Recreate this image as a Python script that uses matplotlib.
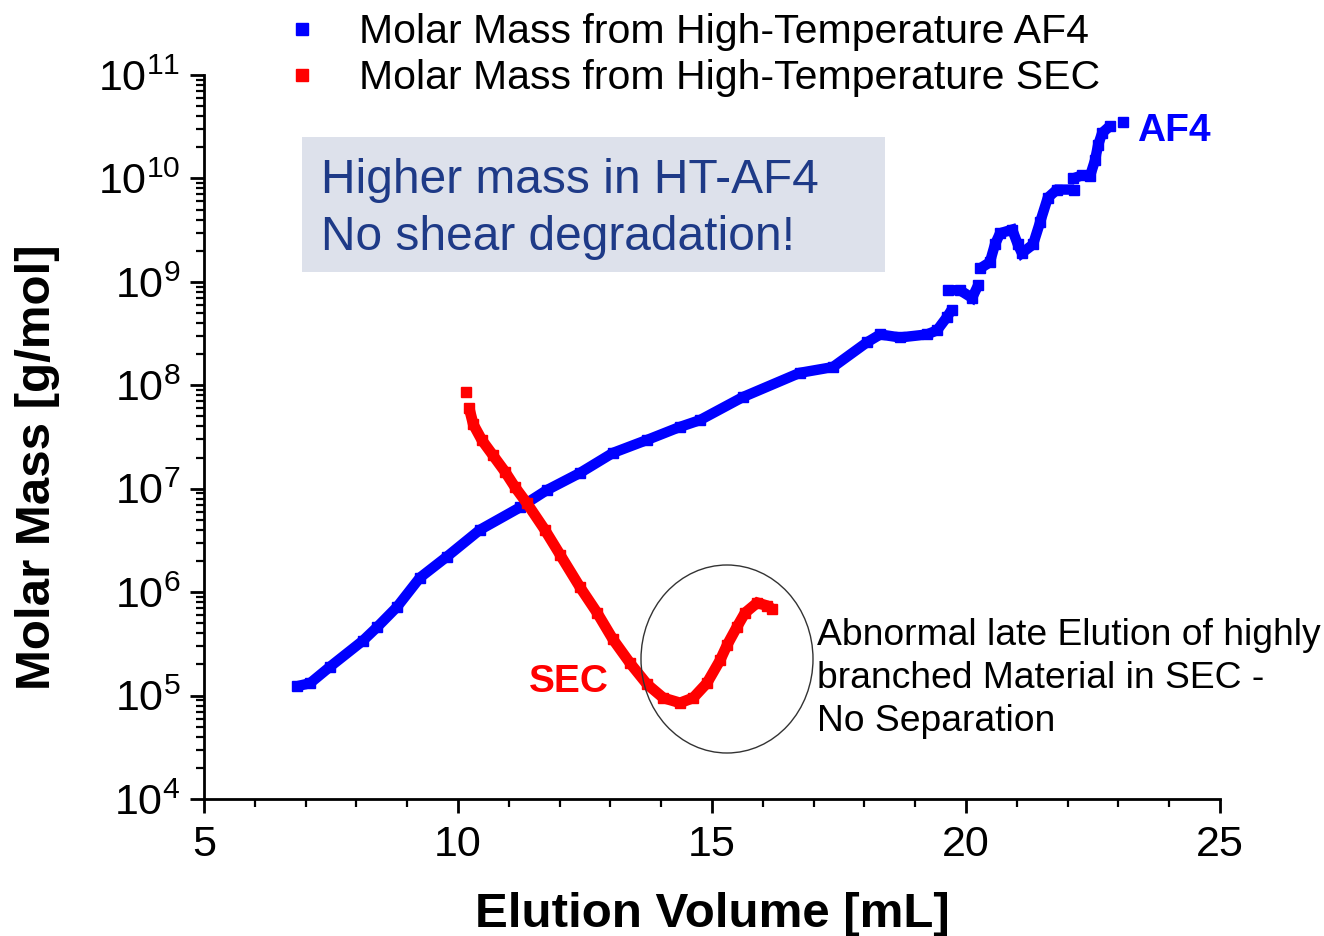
import numpy as np
import matplotlib
matplotlib.use("Agg")
import matplotlib.pyplot as plt
from matplotlib.lines import Line2D
from matplotlib.patches import Ellipse, Rectangle
from matplotlib.ticker import LogLocator, NullFormatter, FixedLocator

plt.rcParams["font.family"] = ["Liberation Sans", "DejaVu Sans"]
plt.rcParams["mathtext.fontset"] = "custom"
plt.rcParams["mathtext.rm"] = "Liberation Sans"
plt.rcParams["mathtext.it"] = "Liberation Sans:italic"
plt.rcParams["mathtext.bf"] = "Liberation Sans:bold"

nan = np.nan

# HT-AF4 molar mass vs elution volume (nan separates detached runs of points)
af4_volume = [6.83, 7.09, 7.48, 8.13, 8.41, 8.80, 9.25, 9.78, 10.43, 11.22,
              11.75, 12.40, 13.05, 13.72, 14.37, 14.76, 15.61, 16.73, 17.38,
              18.05, 18.31, 18.70, 19.23, 19.43, 19.63, 19.72, nan,
              19.65, 19.88, 20.12, 20.24, nan,
              20.28, 20.47, 20.57, 20.67, 20.91, 21.02, 21.10, 21.32, 21.46,
              21.61, 21.79, 22.13, nan,
              22.11, 22.28, nan,
              22.44, 22.54, 22.60, 22.68, 22.83, nan,
              23.09]
af4_mass = [1.23e5, 1.32e5, 1.9e5, 3.4e5, 4.6e5, 7.2e5, 1.38e6, 2.2e6, 4.0e6, 6.6e6,
            9.7e6, 1.42e7, 2.22e7, 2.96e7, 3.96e7, 4.6e7, 7.7e7, 1.32e8, 1.5e8,
            2.6e8, 3.1e8, 2.9e8, 3.1e8, 3.4e8, 4.6e8, 5.4e8, nan,
            8.3e8, 8.3e8, 7.0e8, 9.3e8, nan,
            1.35e9, 1.55e9, 2.3e9, 2.95e9, 3.2e9, 2.3e9, 1.9e9, 2.3e9, 3.8e9,
            6.5e9, 7.8e9, 7.8e9, nan,
            1.0e10, 1.07e10, nan,
            1.05e10, 1.5e10, 2.1e10, 2.75e10, 3.2e10, nan,
            3.5e10]

# HT-SEC molar mass vs elution volume
sec_volume = [10.16, nan, 10.22, 10.30, 10.47, 10.69, 10.93, 11.12, 11.36, 11.71,
              12.01, 12.40, 12.74, 13.05, 13.39, 13.72, 14.04, 14.37, 14.63,
              14.90, 15.16, 15.30, 15.49, 15.65, 15.89, 16.08, 16.18]
sec_mass = [8.6e7, nan, 6.0e7, 4.2e7, 2.95e7, 2.1e7, 1.45e7, 1.04e7, 7.2e6, 4.0e6,
            2.3e6, 1.12e6, 6.3e5, 3.5e5, 2.05e5, 1.29e5, 9.5e4, 8.5e4, 9.5e4,
            1.32e5, 2.2e5, 3.1e5, 4.6e5, 6.3e5, 7.9e5, 7.4e5, 6.9e5]

x_ticks = [5, 10, 15, 20, 25]
y_decades = [4, 5, 6, 7, 8, 9, 10, 11]

series_labels = ["Molar Mass from High-Temperature AF4",
                 "Molar Mass from High-Temperature SEC"]
box_lines = ["Higher mass in HT-AF4", "No shear degradation!"]
note_lines = ["Abnormal late Elution of highly",
              "branched Material in SEC -",
              "No Separation"]

W, H = 1324, 936
fig = plt.figure(figsize=(W / 100, H / 100), dpi=100)
ax = fig.add_axes([204 / W, 1 - 799 / H, (1220 - 204) / W, (799 - 75) / H])


def fx(px):
    return px / W


def fy(py):
    return 1 - py / H


BLUE = "#0000ff"
RED = "#ff0000"

ax.plot(af4_volume, af4_mass, color=BLUE, lw=7.5, marker="s", ms=7.5,
        solid_capstyle="butt", solid_joinstyle="miter", zorder=3)
ax.plot(sec_volume, sec_mass, color=RED, lw=7.8, marker="s", ms=7.8,
        solid_capstyle="butt", solid_joinstyle="miter", zorder=3)

ax.set_yscale("log")
ax.set_xlim(5, 25)
ax.set_ylim(1e4, 1e11)

ax.xaxis.set_major_locator(FixedLocator(x_ticks))
ax.xaxis.set_minor_locator(FixedLocator(np.arange(5, 26, 1)))
ax.set_xticklabels([str(t) for t in x_ticks])
ax.yaxis.set_major_locator(FixedLocator([10.0 ** d for d in y_decades]))
ax.set_yticklabels([r"$\mathregular{10^{%d}}$" % d for d in y_decades])
ax.yaxis.set_minor_locator(LogLocator(base=10, subs=np.arange(2, 10)))
ax.yaxis.set_minor_formatter(NullFormatter())

for s in ["top", "right"]:
    ax.spines[s].set_visible(False)
for s in ["left", "bottom"]:
    ax.spines[s].set_linewidth(2.0)

ax.tick_params(axis="both", which="major", direction="out", length=10,
               width=2.0, labelsize=31, color="black")
ax.tick_params(axis="both", which="minor", direction="out", length=5.5,
               width=1.6)
ax.tick_params(axis="x", which="major", pad=9)
ax.tick_params(axis="y", which="major", pad=7)

ax.set_xlabel("Elution Volume [mL]", fontsize=35.5, fontweight="bold", labelpad=19)
ax.set_ylabel("Molar Mass [g/mol]", fontsize=35.5, fontweight="bold")
ax.yaxis.set_label_coords((60 - 204) / 1016, (799 - 467) / 724)

# legend with square markers only
handles = [Line2D([], [], ls="none", marker="s", ms=9, color=BLUE),
           Line2D([], [], ls="none", marker="s", ms=9, color=RED)]
fig.legend(handles, series_labels, loc="upper left",
           bbox_to_anchor=(fx(282), fy(13)), frameon=False, fontsize=29.5,
           handlelength=1.0, handletextpad=0.89, labelspacing=0.2,
           borderpad=0, borderaxespad=0)

# highlighted statement box
fig.patches.append(Rectangle((fx(302), fy(272)), (885 - 302) / W, (272 - 137) / H,
                             transform=fig.transFigure, facecolor="#dde1eb",
                             edgecolor="none", zorder=1))
fig.text(fx(321), fy(193), box_lines[0], fontsize=34.5, color="#1e3a87",
         va="baseline", ha="left", zorder=2)
fig.text(fx(321), fy(250), box_lines[1], fontsize=34.5, color="#1e3a87",
         va="baseline", ha="left", zorder=2)

# curve tags
fig.text(fx(1137), fy(141), "AF4", fontsize=28, fontweight="bold", color=BLUE,
         va="baseline", ha="left")
fig.text(fx(529), fy(692), "SEC", fontsize=28, fontweight="bold", color=RED,
         va="baseline", ha="left")

# circled region and its note
ax.add_patch(Ellipse(((727 - 204) / 1016, (799 - 659) / 724), 172 / 1016, 188 / 724,
                     transform=ax.transAxes, fill=False, edgecolor="#333333",
                     lw=1.0, zorder=4))
for i, line in enumerate(note_lines):
    fig.text(fx(817), fy(645 + 43 * i), line, fontsize=26.8, color="black",
             va="baseline", ha="left")

fig.savefig("out.png", dpi=100)
